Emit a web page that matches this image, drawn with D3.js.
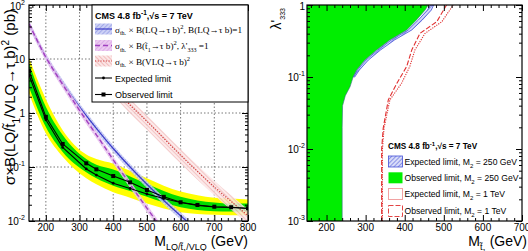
<!DOCTYPE html>
<html><head><meta charset="utf-8">
<script src="https://cdn.jsdelivr.net/npm/d3@7"></script>
<style>
body{margin:0;background:#fff}
svg{display:block}
text{font-family:"Liberation Sans",Arial,Helvetica,sans-serif;fill:#000}
</style></head>
<body><svg id="c" width="528" height="251"></svg>
<script>
// ================= DATA =================
// Left panel: theory cross sections (pb)
const lqMass   = [150, 200, 250, 300, 350, 400, 450, 500, 550, 600, 650];
const lqXsec   = [45, 11, 3.6, 1.3, 0.52, 0.22, 0.10, 0.048, 0.024, 0.0125, 0.0066];
const stopMass = [150, 200, 250, 300, 350, 400, 450, 500, 550, 600];
const stopXsec = [45, 10.8, 3.38, 1.12, 0.395, 0.136, 0.048, 0.0173, 0.0065, 0.0025];
const vlqMass  = [400, 450, 500, 550, 600, 650, 700, 750, 800];
const vlqXsec  = [3.0, 1.4, 0.7, 0.34, 0.165, 0.083, 0.043, 0.023, 0.0125];
const lqRelUnc = 0.15, stopRelUnc = 0.15, vlqRelUnc = 0.30;

// Left panel: limits (pb)
const limMass  = [150, 200, 250, 320, 350, 400, 450, 500, 550, 600, 650, 700, 750, 800];
const expLimit = [5.0, 0.75, 0.23, 0.092, 0.071, 0.050, 0.040, 0.0316, 0.026, 0.022, 0.0195, 0.0182, 0.0178, 0.017];
const obsLimit = [6.0, 0.85, 0.267, 0.117, 0.0905, 0.068, 0.052, 0.0375, 0.028, 0.0222, 0.0198, 0.0184, 0.018, 0.0172];
const band2Hi  = [10.5, 1.8, 0.48, 0.17, 0.14, 0.115, 0.085, 0.062, 0.045, 0.035, 0.030, 0.027, 0.026, 0.025];
const band1Hi  = [8.4, 1.3, 0.39, 0.14, 0.11, 0.09, 0.067, 0.049, 0.036, 0.028, 0.024, 0.022, 0.021, 0.021];
const band1Lo  = [3.0, 0.55, 0.19, 0.08, 0.062, 0.045, 0.036, 0.028, 0.022, 0.018, 0.016, 0.0152, 0.015, 0.015];
const band2Lo  = [2.3, 0.42, 0.155, 0.062, 0.048, 0.034, 0.027, 0.021, 0.017, 0.0145, 0.0135, 0.013, 0.0128, 0.0128];

// Right panel: exclusion contours (stop mass GeV vs lambda'333)
const obs250Lam  = [0.001, 0.02, 0.04, 0.055, 0.073, 0.1, 0.125, 0.172, 0.237, 0.327, 0.45, 0.62, 0.85, 1];
const obs250Mass = [240, 240, 241, 248, 260, 268, 277, 298, 328, 362, 405, 430, 452, 460];
const exp250Lam    = [0.1, 0.125, 0.172, 0.237, 0.327, 0.45, 0.62, 0.85, 1];
const exp250LoMass = [269, 279, 301, 331, 366, 409, 435, 458, 466];
const exp250HiMass = [272, 284, 307, 338, 374, 418, 445, 468, 474];
const m1TLam     = [0.001, 0.01, 0.0195, 0.048, 0.082, 0.14, 0.237, 0.404, 0.586, 1];
const obs1TMass  = [341, 341, 345, 358, 380, 405, 418, 439, 482, 507];
const exp1TMass  = [343, 343, 347, 362, 392, 413, 426, 452, 495, 524];

// Tick labels
const leftYTicks  = [[1e-2, "10", "-2"], [1e-1, "10", "-1"], [1, "1", ""], [10, "10", ""], [100, "10", "2"]];
const rightYTicks = [[1e-3, "10", "-3"], [1e-2, "10", "-2"], [1e-1, "10", "-1"], [1, "1", ""]];
const leftXTicks  = [200, 300, 400, 500, 600, 700, 800];
const rightXTicks = [200, 300, 400, 500, 600, 700];

// ================= DRAW =================
const svg = d3.select("#c");
const defs = svg.append("defs");

function hatch(id, bg, fg, angle) {
  const p = defs.append("pattern").attr("id", id).attr("patternUnits", "userSpaceOnUse")
    .attr("width", 3).attr("height", 3).attr("patternTransform", `rotate(${angle})`);
  p.append("rect").attr("width", 3).attr("height", 3).attr("fill", bg);
  p.append("line").attr("x1", 0).attr("y1", 0).attr("x2", 0).attr("y2", 3).attr("stroke", fg).attr("stroke-width", 1.2);
}
hatch("hBlue", "#ccd0f5", "#8890e2", 45);
hatch("hPurple", "#eccaf1", "#d49ae2", 45);
hatch("hRed", "#fbe6e6", "#eba0a0", -45);
hatch("hBlue2", "#d8dcf8", "#5560dd", 45);

function rich(g, x, y, parts, fs, opts = {}) {
  const t = g.append("text").attr("x", x).attr("y", y).attr("font-size", fs);
  if (opts.anchor) t.attr("text-anchor", opts.anchor);
  if (opts.family) t.style("font-family", opts.family);
  if (opts.weight) t.attr("font-weight", opts.weight);
  if (opts.transform) t.attr("transform", opts.transform);
  let cur = 0;
  parts.forEach(p => {
    const s = typeof p === "string" ? p : p[0];
    const mode = typeof p === "string" ? null : p[1];
    const sfs = typeof p === "string" ? fs : (p[2] || fs * 0.7);
    const shift = mode === "sub" ? fs * 0.32 : mode === "sup" ? -fs * 0.42 : (mode === "sub2" ? fs * 0.55 : 0);
    t.append("tspan").attr("dy", (shift - cur).toFixed(2)).attr("font-size", mode ? sfs : fs).text(s);
    cur = shift;
  });
  return t;
}

function minorsLinear(dom, step) {
  const a = []; for (let v = Math.ceil(dom[0] / step) * step; v <= dom[1] + 1e-9; v += step) a.push(v); return a;
}
function minorsLog(dom) {
  const a = []; for (let e = Math.floor(Math.log10(dom[0])); e < Math.log10(dom[1]); e++)
    for (let k = 2; k <= 9; k++) { const v = k * Math.pow(10, e); if (v > dom[0] && v < dom[1]) a.push(v); }
  return a;
}

function frame(g, x, y, opts) {
  const [x0, x1] = x.range(), [y0, y1] = y.range();
  const xMaj = minorsLinear(x.domain(), 100), xMin = minorsLinear(x.domain(), 20).filter(v => v % 100 !== 0);
  const yMaj = [], yDom = y.domain();
  for (let e = Math.round(Math.log10(yDom[0])); e <= Math.round(Math.log10(yDom[1])); e++) yMaj.push(Math.pow(10, e));
  const yMin = minorsLog(yDom);
  const tick = (sel) => sel.call(s => s.select(".domain").remove()).selectAll("line").attr("stroke", "#000");
  g.append("g").attr("transform", `translate(0,${y0})`).call(d3.axisBottom(x).tickValues(xMaj).tickSize(-6).tickFormat("")).call(tick);
  g.append("g").attr("transform", `translate(0,${y0})`).call(d3.axisBottom(x).tickValues(xMin).tickSize(-3).tickFormat("")).call(tick);
  g.append("g").attr("transform", `translate(0,${y1})`).call(d3.axisTop(x).tickValues(xMaj).tickSize(-6).tickFormat("")).call(tick);
  g.append("g").attr("transform", `translate(0,${y1})`).call(d3.axisTop(x).tickValues(xMin).tickSize(-3).tickFormat("")).call(tick);
  g.append("g").attr("transform", `translate(${x0},0)`).call(d3.axisLeft(y).tickValues(yMaj).tickSize(-6).tickFormat("")).call(tick);
  g.append("g").attr("transform", `translate(${x0},0)`).call(d3.axisLeft(y).tickValues(yMin).tickSize(-3).tickFormat("")).call(tick);
  g.append("g").attr("transform", `translate(${x1},0)`).call(d3.axisRight(y).tickValues(yMaj).tickSize(-6).tickFormat("")).call(tick);
  g.append("g").attr("transform", `translate(${x1},0)`).call(d3.axisRight(y).tickValues(yMin).tickSize(-3).tickFormat("")).call(tick);
  g.append("rect").attr("x", x0).attr("y", y1).attr("width", x1 - x0).attr("height", y0 - y1)
    .attr("fill", "none").attr("stroke", "#000").attr("stroke-width", 1.2);
  // labels
  opts.xTicks.forEach(v => g.append("text").attr("x", x(v)).attr("y", y0 + 10).attr("font-size", 10)
    .attr("text-anchor", "middle").text(v));
  opts.yTicks.forEach(([v, b, e]) => {
    const yy = Math.max(y(v) + 3.5, 9.5);
    rich(g, opts.yLabX, yy, e ? [b, [e, "sup", 7]] : [b], 10, { anchor: "end" });
  });
}

// ---------- LEFT PANEL ----------
const xL = d3.scaleLinear([150, 800], [29, 248]);
const yL = d3.scaleLog([1e-2, 1e2], [221, 5]);
const gL = svg.append("g");
defs.append("clipPath").attr("id", "clipL").append("rect").attr("x", 29).attr("y", 5).attr("width", 219).attr("height", 216);
const pL = gL.append("g").attr("clip-path", "url(#clipL)");

// grid
leftXTicks.filter(v => v < 800).forEach(v => pL.append("line").attr("x1", xL(v)).attr("x2", xL(v)).attr("y1", 5).attr("y2", 221)
  .attr("stroke", "#555").attr("stroke-width", 0.8).attr("stroke-dasharray", "1.5,2"));
[1e-1, 1, 10].forEach(v => pL.append("line").attr("x1", 29).attr("x2", 248).attr("y1", yL(v)).attr("y2", yL(v))
  .attr("stroke", "#555").attr("stroke-width", 0.8).attr("stroke-dasharray", "1.5,2"));

const areaBand = (lo, hi) => d3.area().x((d, i) => xL(limMass[i])).y0((d, i) => yL(lo[i])).y1((d, i) => yL(hi[i])).curve(d3.curveMonotoneX);
pL.append("path").datum(limMass).attr("d", areaBand(band2Lo, band2Hi)).attr("fill", "#ffff00");
pL.append("path").datum(limMass).attr("d", areaBand(band1Lo, band1Hi)).attr("fill", "#00dd00");

function theory(mass, xs, unc, pat, color, dash, width) {
  const ar = d3.area().x((d, i) => xL(mass[i])).y0((d, i) => yL(xs[i] * (1 - unc))).y1((d, i) => yL(xs[i] * (1 + unc))).curve(d3.curveMonotoneX);
  pL.append("path").datum(mass).attr("d", ar).attr("fill", `url(#${pat})`).attr("opacity", 0.85);
  const ln = d3.line().x((d, i) => xL(mass[i])).y((d, i) => yL(xs[i])).curve(d3.curveMonotoneX);
  pL.append("path").datum(mass).attr("d", ln).attr("fill", "none").attr("stroke", color).attr("stroke-width", width)
    .attr("stroke-dasharray", dash);
}
theory(vlqMass, vlqXsec, vlqRelUnc, "hRed", "#d03a3a", "1.2,1.5", 1.2);
theory(lqMass, lqXsec, lqRelUnc, "hBlue", "#3a3ac8", null, 1.2);
theory(stopMass, stopXsec, stopRelUnc, "hPurple", "#a040c0", "5,3", 1.4);

const limLine = arr => d3.line().x((d, i) => xL(limMass[i])).y((d, i) => yL(arr[i]));
pL.append("path").datum(limMass).attr("d", limLine(expLimit)).attr("fill", "none").attr("stroke", "#000").attr("stroke-width", 1.1);
pL.append("path").datum(limMass).attr("d", limLine(obsLimit)).attr("fill", "none").attr("stroke", "#000").attr("stroke-width", 1.1);
pL.selectAll(".em").data(limMass).join("circle").attr("cx", d => xL(d)).attr("cy", (d, i) => yL(expLimit[i])).attr("r", 1.4).attr("fill", "#000");
pL.selectAll(".om").data(limMass).join("rect").attr("x", d => xL(d) - 2).attr("y", (d, i) => yL(obsLimit[i]) - 2)
  .attr("width", 4).attr("height", 4).attr("fill", "#000");

frame(gL, xL, yL, { xTicks: leftXTicks, yTicks: leftYTicks, yLabX: 25 });

// legend left
const lg = gL.append("g");
lg.append("rect").attr("x", 92).attr("y", 5).attr("width", 156).attr("height", 97).attr("fill", "#fff").attr("stroke", "#000").attr("stroke-width", 1);
rich(lg, 95, 18.5, ["CMS 4.8 fb", ["-1", "sup", 6.5], ",\u221As = 7 TeV"], 9, { weight: "bold" });
const serif = '"Liberation Serif","Times New Roman",serif';
const legRows = [29, 45.5, 61, 78, 94.5];
// symbols
lg.append("rect").attr("x", 95).attr("y", legRows[0] - 5.5).attr("width", 17).attr("height", 11).attr("fill", "url(#hBlue)");
lg.append("line").attr("x1", 95).attr("x2", 112).attr("y1", legRows[0]).attr("y2", legRows[0]).attr("stroke", "#3a3ac8").attr("stroke-width", 1.2);
lg.append("rect").attr("x", 95).attr("y", legRows[1] - 5.5).attr("width", 17).attr("height", 11).attr("fill", "url(#hPurple)");
lg.append("line").attr("x1", 95).attr("x2", 112).attr("y1", legRows[1]).attr("y2", legRows[1]).attr("stroke", "#a040c0").attr("stroke-width", 1.4).attr("stroke-dasharray", "5,3");
lg.append("rect").attr("x", 95).attr("y", legRows[2] - 5.5).attr("width", 17).attr("height", 11).attr("fill", "url(#hRed)");
lg.append("line").attr("x1", 95).attr("x2", 112).attr("y1", legRows[2]).attr("y2", legRows[2]).attr("stroke", "#d03a3a").attr("stroke-width", 1.2).attr("stroke-dasharray", "1.2,1.5");
[3, 4].forEach(r => lg.append("line").attr("x1", 95).attr("x2", 112).attr("y1", legRows[r]).attr("y2", legRows[r]).attr("stroke", "#000").attr("stroke-width", 1.1));
lg.append("circle").attr("cx", 103.5).attr("cy", legRows[3]).attr("r", 1.4);
lg.append("rect").attr("x", 101.5).attr("y", legRows[4] - 2).attr("width", 4).attr("height", 4);
rich(lg, 115, legRows[0] + 3.5, ["\u03C3", ["th.", "sub", 6], " \u00D7 B(LQ\u2192\u03C4 b)", ["2", "sup", 6.5], ", B(LQ\u2192\u03C4 b)=1"], 9.2, { family: serif });
rich(lg, 115, legRows[1] + 3.5, ["\u03C3", ["th.", "sub", 6], " \u00D7 B(t\u0303", ["1", "sub", 6], "\u2192\u03C4 b)", ["2", "sup", 6.5], ", \u03BB'", ["333", "sub", 6], " =1"], 9.2, { family: serif });
rich(lg, 115, legRows[2] + 3.5, ["\u03C3", ["th.", "sub", 6], " \u00D7 B(VLQ\u2192\u03C4 b)", ["2", "sup", 6.5]], 9.2, { family: serif });
lg.append("text").attr("x", 115).attr("y", legRows[3] + 3.5).attr("font-size", 9).text("Expected limit");
lg.append("text").attr("x", 115).attr("y", legRows[4] + 3.5).attr("font-size", 9).text("Observed limit");

// axis titles left
rich(gL, 248, 245.5, ["M", ["LQ/t\u0303", "sub", 9], ["1", "sub2", 6], ["/VLQ", "sub", 9], " (GeV)"], 14, { anchor: "end" });
rich(gL, 0, 0, ["\u03C3\u00D7B(LQ/t\u0303", ["1", "sub", 10], "/VLQ\u2192\u03C4 b)", ["2", "sup", 10], " (pb)"], 15,
  { anchor: "end", transform: "translate(15,9) rotate(-90)" });

// ---------- RIGHT PANEL ----------
const xR = d3.scaleLinear([150, 700], [307, 522]);
const yR = d3.scaleLog([1e-3, 1], [221, 5]);
const gR = svg.append("g");
defs.append("clipPath").attr("id", "clipR").append("rect").attr("x", 307).attr("y", 5).attr("width", 215).attr("height", 216);
const pR = gR.append("g").attr("clip-path", "url(#clipR)");

const greenPts = [[150, 1e-3]].concat(obs250Mass.map((m, i) => [m, obs250Lam[i]])).concat([[150, 1]]);
pR.append("path").attr("d", d3.line().x(d => xR(d[0])).y(d => yR(d[1]))(greenPts) + "Z").attr("fill", "#00ee00");
const bandPts = exp250LoMass.map((m, i) => [m, exp250Lam[i]]).concat(exp250HiMass.map((m, i) => [m, exp250Lam[i]]).reverse());
pR.append("path").attr("d", d3.line().x(d => xR(d[0])).y(d => yR(d[1]))(bandPts) + "Z").attr("fill", "url(#hBlue2)").attr("stroke", "#4450d8").attr("stroke-width", 0.8);
pR.append("path").attr("d", d3.line().x(d => xR(d[0])).y(d => yR(d[1]))(obs250Mass.map((m, i) => [m, obs250Lam[i]])))
  .attr("fill", "none").attr("stroke", "#3a6a8a").attr("stroke-width", 0.6);
const cLine = d3.line().x(d => xR(d[0])).y(d => yR(d[1]));
pR.append("path").attr("d", cLine(exp1TMass.map((m, i) => [m, m1TLam[i]]))).attr("fill", "none").attr("stroke", "#e03030").attr("stroke-width", 1.1).attr("stroke-dasharray", "1.2,1.2");
pR.append("path").attr("d", cLine(obs1TMass.map((m, i) => [m, m1TLam[i]]))).attr("fill", "none").attr("stroke", "#e03030").attr("stroke-width", 1.1).attr("stroke-dasharray", "5,2");

frame(gR, xR, yR, { xTicks: rightXTicks, yTicks: rightYTicks, yLabX: 305 });

// legend right
const lr = gR.append("g");
rich(lr, 388, 149, ["CMS 4.8 fb", ["-1", "sup", 6], ",\u221As = 7 TeV"], 8.2, { weight: "bold" });
const rRows = [161.5, 177.8, 194, 211];
lr.append("rect").attr("x", 388.5).attr("y", rRows[0] - 5.5).attr("width", 14).attr("height", 11).attr("fill", "url(#hBlue2)").attr("stroke", "#4450d8").attr("stroke-width", 0.8);
lr.append("rect").attr("x", 388.5).attr("y", rRows[1] - 5.5).attr("width", 14).attr("height", 11).attr("fill", "#00ee00");
lr.append("rect").attr("x", 388.5).attr("y", rRows[2] - 5.5).attr("width", 14).attr("height", 11).attr("fill", "none").attr("stroke", "#e03030").attr("stroke-width", 0.9).attr("stroke-dasharray", "1,1");
lr.append("rect").attr("x", 388.5).attr("y", rRows[3] - 5.5).attr("width", 14).attr("height", 11).attr("fill", "none").attr("stroke", "#e03030").attr("stroke-width", 0.9).attr("stroke-dasharray", "5,2");
const rLab = [["Expected limit, M", "250 GeV"], ["Observed limit, M", "250 GeV"], ["Expected limit, M", "1 TeV"], ["Observed limit, M", "1 TeV"]];
rLab.forEach((l, i) => rich(lr, 404.5, rRows[i] + 3.3, [l[0], ["2", "sub", 6], " = " + l[1]], 8.6));

// axis titles right
rich(gR, 527, 245.5, ["M", ["t\u0303", "sub", 9], ["1", "sub2", 6], " (GeV)"], 14, { anchor: "end" });
rich(gR, 0, 0, ["\u03BB'", ["333", "sub", 7]], 14, { anchor: "end", transform: "translate(281,8) rotate(-90)" });
</script></body></html>
